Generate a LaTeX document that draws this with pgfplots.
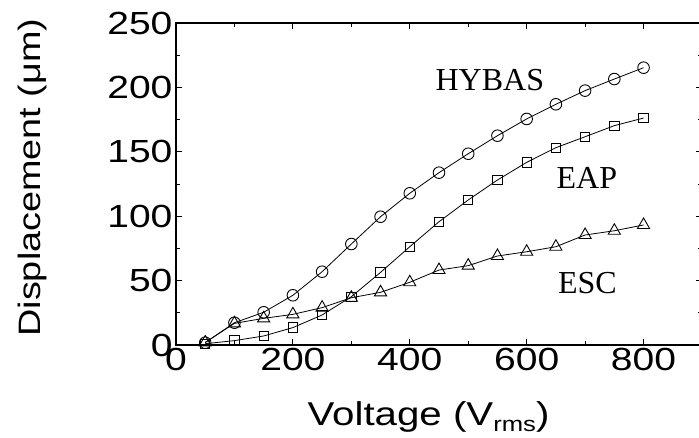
\documentclass[border=0pt]{standalone}
\usepackage{fontspec}
\setmainfont[FakeStretch=1.22]{Liberation Sans}
\newfontfamily\timesfont{Liberation Serif}
\usepackage{pgfplots}
\pgfplotsset{compat=1.18}
\begin{document}
\begin{tikzpicture}
\begin{axis}[
 at={(176pt,92pt)}, anchor=south west,
 width=526pt, height=322pt, scale only axis,
 xmin=0, xmax=900, ymin=0, ymax=250,
 xtick={0,200,...,800}, ytick={0,50,...,250},
 minor x tick num=1, minor y tick num=1,
 tick align=inside, major tick length=6pt, minor tick length=4pt,
 axis line style={line width=1.2pt},
 every tick/.style={line width=1pt,black},
 ticklabel style={font=\fontsize{32}{36}\selectfont},
 /pgf/number format/assume math mode=true,
 xlabel={Voltage (V\raisebox{-0.4ex}{\fontsize{21}{21}\selectfont rms})},
 ylabel={Displacement (μm)},
 xlabel style={font=\fontsize{33}{36}\selectfont, at={(axis description cs:0.48,0)},anchor=base,yshift=-80pt},
 ylabel style={font=\fontsize{31}{36}\selectfont, at={(axis description cs:0,0.52)},anchor=center,rotate=0,yshift=144pt},
 clip=false,
 every axis plot/.append style={black, line width=0.8pt, mark options={solid, fill=white, line width=0.9pt}}
]
% HYBAS
\addplot[mark=o, mark size=5.8pt] coordinates {
(50,1.8) (100,17.3) (150,25.4) (200,38.6) (250,56.9) (300,78.4) (350,99.6) (400,117.8)
(450,133.8) (500,148.5) (550,162.5) (600,175.5) (650,186.9) (700,197.5) (750,206.5) (800,215.3)};
% EAP
\addplot[mark=square, mark size=4.7pt] coordinates {
(50,1.0) (100,3.4) (150,7.0) (200,13.5) (250,23.3) (300,37.5) (350,56.4) (400,76.3)
(450,95.7) (500,112.6) (550,128.1) (600,141.8) (650,153.2) (700,161.7) (750,170.3) (800,176.2)};
% ESC
\addplot[mark=triangle, mark size=7pt] coordinates {
(50,2.0) (100,16.8) (150,20.7) (200,23.8) (250,29.0) (300,36.7) (350,40.9) (400,48.7)
(450,58.2) (500,61.6) (550,69.1) (600,72.4) (650,76.3) (700,85.4) (750,88.7) (800,93.2)};
\node[font=\timesfont\fontsize{32}{34}\selectfont] at (axis cs:537,206) {HYBAS};
\node[font=\timesfont\fontsize{32}{34}\selectfont] at (axis cs:703,130) {EAP};
\node[font=\timesfont\fontsize{32}{34}\selectfont] at (axis cs:704,48) {ESC};
\end{axis}
\pgfresetboundingbox
\path (0,0) rectangle (699pt,437pt);
\end{tikzpicture}
\end{document}
